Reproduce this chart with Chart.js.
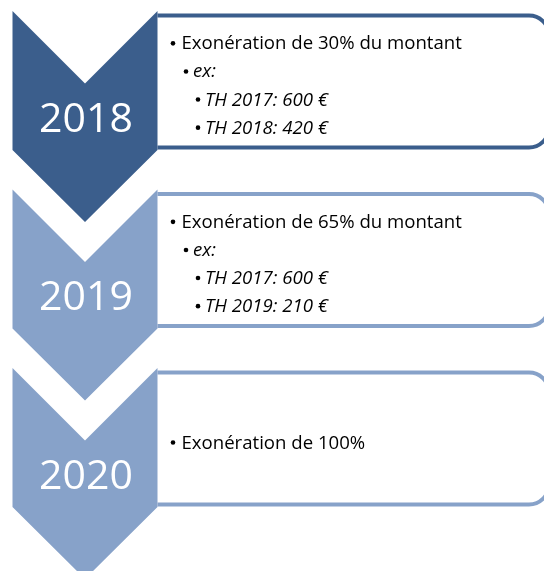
<!DOCTYPE html>
<html>
<head>
<meta charset="utf-8">
<script src="https://cdn.jsdelivr.net/npm/chart.js"></script>
<style>
    html, body { margin: 0; padding: 0; background: #fff; }
    #wrap { width: 544px; height: 571px; }
</style>
</head>
<body>
<div id="wrap"><canvas id="timeline"></canvas></div>
<script>
// -----------------------------
// data
// -----------------------------
const years = ["2018", "2019", "2020"];
const stepColors = ["#3b5e8c", "#87a2c9", "#87a2c9"];

const bullets2018 = ["Exonération de 30% du montant", "ex:", "TH 2017: 600 €", "TH 2018: 420 €"];
const bullets2019 = ["Exonération de 65% du montant", "ex:", "TH 2017: 600 €", "TH 2019: 210 €"];
const bullets2020 = ["Exonération de 100%"];
const levels2018 = [0, 1, 2, 2];
const levels2019 = [0, 1, 2, 2];
const levels2020 = [0];

const stepBullets = [bullets2018, bullets2019, bullets2020];
const stepLevels = [levels2018, levels2019, levels2020];

// -----------------------------
// layout
// -----------------------------
const FONT = "'Open Sans', Lato, sans-serif";
const STEP = 178.5;
const CHEV = { left: 12.5, right: 157.5, side: 139, tip: 211 };
const BOX = { top: 4.5, bottom: 136.5, right: 549, radius: 20, line: 4 };
const LINE_H = 28.1;
const LEVEL_X = [
    { dot: 173, text: 181.5 },
    { dot: 186, text: 193 },
    { dot: 198, text: 205 }
];

const stepPlugin = {
    id: "stepPlugin",
    afterDatasetsDraw(chart) {
        const ctx = chart.ctx;
        const yScale = chart.scales.y;
        const xScale = chart.scales.x;
        const meta = chart.getDatasetMeta(0);

        meta.data.forEach((pt, i) => {
            const top = yScale.getPixelForValue(i);
            const xL = xScale.getPixelForValue(CHEV.left);
            const xR = xScale.getPixelForValue(CHEV.right);
            const xM = (xL + xR) / 2;
            const notch = (xR - xL) / 2;
            const color = stepColors[i];

            ctx.save();

            // box (open on the left, the chevron closes it)
            const bx = xR, by = top + BOX.top, bw = BOX.right - bx, bh = BOX.bottom - BOX.top;
            const r = BOX.radius;
            ctx.beginPath();
            ctx.moveTo(bx, by);
            ctx.lineTo(bx + bw - r, by);
            ctx.arcTo(bx + bw, by, bx + bw, by + r, r);
            ctx.lineTo(bx + bw, by + bh - r);
            ctx.arcTo(bx + bw, by + bh, bx + bw - r, by + bh, r);
            ctx.lineTo(bx, by + bh);
            ctx.fillStyle = "#fff";
            ctx.fill();
            ctx.lineWidth = BOX.line;
            ctx.strokeStyle = color;
            ctx.stroke();

            // chevron
            ctx.beginPath();
            ctx.moveTo(xL, top);
            ctx.lineTo(xM, top + notch);
            ctx.lineTo(xR, top);
            ctx.lineTo(xR, top + CHEV.side);
            ctx.lineTo(xM, top + CHEV.tip);
            ctx.lineTo(xL, top + CHEV.side);
            ctx.closePath();
            ctx.fillStyle = color;
            ctx.fill();

            // year
            ctx.fillStyle = "#fff";
            ctx.font = "41px " + FONT;
            ctx.textAlign = "center";
            ctx.textBaseline = "alphabetic";
            ctx.fillText(years[i], xM + 1, top + 120.7);

            // bullets
            const lines = stepBullets[i];
            const levels = stepLevels[i];
            const mid = top + (BOX.top + BOX.bottom) / 2;
            const first = mid - (lines.length - 1) * LINE_H / 2 + 10;
            ctx.textAlign = "left";
            ctx.fillStyle = "#000";
            lines.forEach((txt, k) => {
                const lv = LEVEL_X[levels[k]];
                const y = first + k * LINE_H;
                ctx.beginPath();
                ctx.arc(lv.dot, y - 6, 2.3, 0, Math.PI * 2);
                ctx.fill();
                const italic = levels[k] > 0 ? "italic " : "";
                ctx.font = italic + "18.6px " + FONT;
                ctx.fillText(txt, lv.text, y);
            });

            ctx.restore();
        });
    }
};

new Chart(document.getElementById("timeline"), {
    type: "scatter",
    data: {
        datasets: [{
            data: years.map((y, i) => ({ x: 85, y: i })),
            pointRadius: 0
        }]
    },
    options: {
        responsive: true,
        maintainAspectRatio: false,
        animation: false,
        layout: { padding: 0 },
        plugins: { legend: { display: false }, tooltip: { enabled: false } },
        scales: {
            x: { display: false, min: 0, max: 544 },
            y: { display: false, reverse: true, min: -11 / STEP, max: 560 / STEP }
        }
    },
    plugins: [stepPlugin]
});
</script>
</body>
</html>
